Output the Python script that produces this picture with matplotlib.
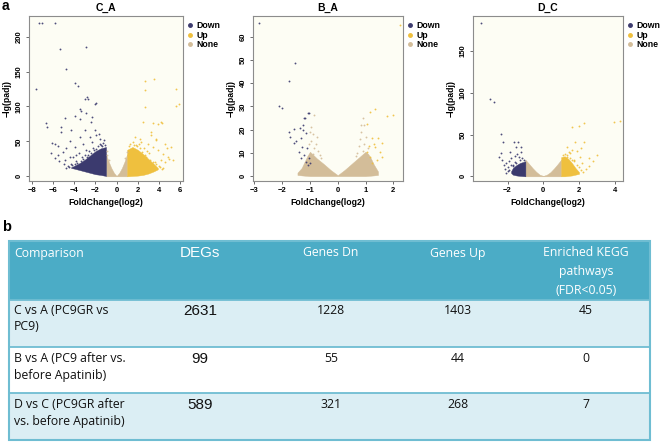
import matplotlib
matplotlib.use('Agg')
import matplotlib.pyplot as plt
from matplotlib.patches import Rectangle
from matplotlib.lines import Line2D

### Cores
cor_down = '#3b3a6e'
cor_up   = '#efc03e'
cor_none = '#d3bd99'
cor_fundo = '#fdfdf4'

### ========== C_A ==========
ca_down_x = [-7.31, -7.09, -5.83, -5.36, -2.91, -4.82, -7.62, -3.94, -3.69, -2.75, -3.03, -6.71, -6.62, -6.08, -5.86,
             -5.30, -3.47, -3.35, -1.96, -2.37, -4.89, -3.97, -3.50, -2.87, -2.40, -2.08, -4.29, -4.45, -3.03, -5.55,
             -4.76, -5.08, -3.97, -3.19, -1.92, -1.61, -2.56, -3.50, -4.45, -3.82, -5.55, -4.92, -5.30, -2.02, -2.71,
             -1.3, -1.5, -1.8, -2.2, -2.6, -3.0, -3.3, -3.8, -4.3, -4.6, -5.0, -5.4, -5.8, -6.2, -1.2, -2.9, -3.6,
             -4.1, -1.7, -2.3,
             -1.1, -1.4, -1.9, -2.1, -2.7, -3.2, -3.4, -3.9, -4.5, -4.8, -1.6, -2.4, -2.8, -3.7, -4.2]
ca_down_y = [219, 219, 219, 183, 185, 153, 125, 134, 129, 114, 111, 77, 70, 48, 46,
             70, 97, 93, 105, 85, 84, 86, 82, 90, 78, 66, 66, 51, 66, 44,
             40, 35, 42, 47, 59, 54, 56, 56, 28, 30, 30, 23, 63, 104, 111,
             48, 45, 44, 40, 36, 30, 27, 22, 18, 15, 17, 22, 26, 34, 52, 38, 33,
             28, 60, 49,
             45, 43, 39, 37, 31, 25, 22, 17, 13, 12, 46, 34, 28, 19, 16]
ca_up_x = [2.65, 5.65, 2.71, 5.65, 2.71, 3.91, 2.49, 3.44, 4.23, 5.17, 4.79, 4.54, 3.75, 3.28, 2.18, 2.97, 4.38, 3.91,
           3.44, 2.33, 1.70, 1.55, 5.33, 4.85, 4.23, 3.51, 5.87, 4.26, 3.29, 3.76, 1.3, 1.8, 2.6, 3.1, 4.6, 5.0, 2.9, 2.1,
           1.2, 1.6, 2.2, 2.4, 2.7, 3.2, 3.4, 3.7, 4.1, 4.4, 1.9, 2.8, 3.6, 4.0, 4.3]
ca_up_y = [136, 125, 123, 101, 99, 75, 78, 76, 78, 42, 40, 47, 54, 59, 54, 47, 32, 37,
           42, 49, 56, 49, 23, 28, 23, 140, 103, 77, 64, 52, 46, 45, 40, 33, 20, 25, 36, 47,
           43, 45, 41, 35, 30, 24, 21, 17, 13, 12, 44, 27, 20, 15, 10]
ca_none_x = [-0.9, -0.7, 0.8, 0.95, -0.95]
ca_none_y = [36, 24, 26, 35, 30]
# contornos das nuvens densas
ca_down_env_x  = [-4.3, -4.0, -3.5, -3.0, -2.5, -2.0, -1.5, -1.0]
ca_down_env_lo = [12, 11, 9, 7, 5, 3, 2, 0.5]
ca_down_env_hi = [13, 15, 19, 24, 30, 36, 40, 42]
ca_none_env_x  = [-1.0, -0.75, -0.5, -0.25, 0.0, 0.25, 0.5, 0.75, 1.0]
ca_none_env_lo = [0, 0, 0, 0, 0, 0, 0, 0, 0]
ca_none_env_hi = [32, 21, 12, 5, 0.5, 5, 12, 21, 32]
ca_up_env_x  = [1.0, 1.5, 2.0, 2.5, 3.0, 3.5, 3.9]
ca_up_env_lo = [0, 0.5, 1, 2, 4, 7, 10]
ca_up_env_hi = [38, 42, 38, 32, 25, 18, 12]

### ========== B_A ==========
ba_down_x = [-2.82, -1.54, -1.75, -2.11, -1.99, -1.06, -1.21, -1.24, -1.77, -1.71, -1.57, -1.51, -1.36, -1.24,
             -1.15, -1.04, -1.19, -1.33, -1.27, -1.10, -1.39, -1.21, -1.04, -1.57, -1.07, -1.00, -1.15, -1.33]
ba_down_y = [66, 48.5, 40.9, 30.3, 29.4, 27.3, 24.8, 22.2, 19.1, 17, 20.1, 15.1, 20.5, 19.8,
             18.4, 27, 24.9, 16.2, 12.6, 11.9, 10.5, 9.1, 7.6, 14.1, 4.7, 5.5, 6.2, 7.6]
ba_up_x = [2.24, 1.35, 1.17, 1.76, 1.98, 1.05, 1.23, 1.46, 1.58, 1.35, 1.51, 1.17, 1.40, 1.23, 1.05, 1.58, 1.30, 1.12]
ba_up_y = [65, 28.8, 27.4, 25.8, 26.3, 22.4, 16.2, 16.2, 14.1, 12.6, 10.5, 8.3, 6.9, 5.5, 10.5, 8.3, 14.0, 13.0]
ba_none_x = [-0.86, 0.93, -0.95, -0.85, -0.95, -0.80, -0.70, -0.75, -1.00, -0.90, -0.65, -0.60, -1.05,
             -0.88, 0.70, 0.75, 0.80, 0.85, 0.90, 0.95, 1.00, 0.65, 0.85, 1.10, 0.90]
ba_none_y = [26.3, 22, 21, 12, 15, 14, 11, 17, 19, 9.5, 9, 8, 14,
             18, 10, 13, 16, 19, 11, 14, 17, 8.5, 22, 12, 25]
ba_none_env_x  = [-1.45, -1.3, -1.2, -1.1, -1.0, -0.75, -0.5, -0.25, 0.0, 0.25, 0.5, 0.75, 1.0, 1.1, 1.2, 1.3, 1.45]
ba_none_env_lo = [0.5, 0.3, 0.2, 0.1, 0, 0, 0, 0, 0, 0, 0, 0, 0, 0.1, 0.2, 0.3, 0.5]
ba_none_env_hi = [1.5, 3.5, 6, 8.5, 10.5, 7.6, 5.2, 2.6, 0.4, 2.7, 5.3, 7.9, 10.5, 9.5, 7.5, 5, 2]

### ========== D_C ==========
dc_down_x = [-3.48, -2.98, -2.74, -2.35, -2.24, -1.63, -1.41, -1.54, -1.26, -1.35, -2.46, -2.33,
             -2.09, -1.81, -2.00, -1.72, -2.37, -1.85, -1.9, -2.15, -1.6, -1.45, -1.25, -2.2,
             -1.1, -1.3, -1.5, -1.7, -1.9, -2.0, -1.2, -1.6, -1.8, -2.1]
dc_down_y = [184, 92.5, 89.3, 50.3, 41.5, 41.5, 41.5, 35.5, 29.5, 23.5, 23.5, 19.5,
             15.6, 21.5, 11.6, 13.6, 27.5, 29.5, 18, 9, 24, 27, 35, 13,
             20, 19, 16, 12, 8, 6, 22, 17, 14, 4]
dc_up_x = [4.30, 3.96, 2.26, 1.98, 1.61, 1.80, 2.30, 1.33, 1.61, 3.00, 2.54, 2.07, 1.70, 2.54, 2.17,
           1.33, 1.52, 2.8, 1.9, 2.4, 1.45, 2.1,
           1.1, 1.3, 1.5, 1.7, 1.9, 2.1, 2.2, 1.2, 1.6, 2.0]
dc_up_y = [66.6, 64.6, 63.4, 60.2, 58.6, 41.5, 41.5, 35.5, 31.5, 25.5, 12.8, 23.5, 19.5, 21.5, 15.6,
           23.5, 27.5, 18, 30, 9, 29, 34,
           26, 25, 22, 18, 13, 8, 5, 27, 20, 11]
dc_down_env_x  = [-1.8, -1.7, -1.5, -1.3, -1.0]
dc_down_env_lo = [4, 2, 1, 0.5, 0]
dc_down_env_hi = [6, 10, 13.5, 16, 18]
dc_none_env_x  = [-1.0, -0.8, -0.6, -0.4, -0.2, 0.0, 0.2, 0.4, 0.6, 0.8, 1.0]
dc_none_env_lo = [0, 0, 0, 0, 0, 0, 0, 0, 0, 0, 0]
dc_none_env_hi = [20, 15, 10, 5.5, 2, 0.5, 2, 5, 9.5, 14.5, 20]
dc_up_env_x  = [1.0, 1.2, 1.4, 1.6, 1.8, 2.0]
dc_up_env_lo = [0, 0, 0.5, 1, 2, 3]
dc_up_env_hi = [23, 24, 21, 16, 10, 5]

### ========== Tabela ==========
cabecalho   = ['Comparison', 'DEGs', 'Genes Dn', 'Genes Up', 'Enriched KEGG\npathways\n(FDR<0.05)']
comparacoes = ['C vs A (PC9GR vs\nPC9)', 'B vs A (PC9 after vs.\nbefore Apatinib)', 'D vs C (PC9GR after\nvs. before Apatinib)']
degs        = [2631, 99, 589]
genes_dn    = [1228, 55, 321]
genes_up    = [1403, 44, 268]
kegg        = [45, 0, 7]

fonte = 'Liberation Sans'
fonte_tab = 'Open Sans'
W, H = 660, 443
fig = plt.figure(figsize=(W / 100, H / 100), dpi=100)

# ---------- Tabela (eixo em pixels) ----------
ax_t = fig.add_axes([0, 0, 1, 1])
ax_t.set_xlim(0, W)
ax_t.set_ylim(H, 0)
ax_t.axis('off')

azul = '#4bacc6'
claro = '#dbeef4'
linhas_y = [241, 300, 347, 393, 440]
ax_t.add_patch(Rectangle((9, 241), 641, 59, facecolor=azul, edgecolor='none'))
for i, cor in enumerate([claro, 'white', claro]):
    ax_t.add_patch(Rectangle((9, linhas_y[i + 1]), 641, linhas_y[i + 2] - linhas_y[i + 1], facecolor=cor, edgecolor='none'))
for yl in linhas_y[1:-1]:
    ax_t.plot([9, 650], [yl, yl], color='#6fbdd2', lw=1.3)
ax_t.add_patch(Rectangle((9, 241), 641, 199, facecolor='none', edgecolor='#6fbdd2', lw=1.5))

col_x = [14, 200, 331, 458, 586]
tam = 8.8
cor_txt = '#111111'
# cabeçalho
ax_t.text(col_x[0], 253, cabecalho[0], color='white', fontsize=tam, family=fonte_tab, ha='left', va='center')
ax_t.text(col_x[1], 253, cabecalho[1], color='white', fontsize=11, family=fonte, ha='center', va='center')
ax_t.text(col_x[2], 253, cabecalho[2], color='white', fontsize=tam, family=fonte_tab, ha='center', va='center')
ax_t.text(col_x[3], 253, cabecalho[3], color='white', fontsize=tam, family=fonte_tab, ha='center', va='center')
for k, linha in enumerate(cabecalho[4].split('\n')):
    ax_t.text(col_x[4], 253 + k * 18.5, linha, color='white', fontsize=tam, family=fonte_tab, ha='center', va='center')

topo_linhas = [311, 359, 405]
for i in range(3):
    y0 = topo_linhas[i]
    for k, linha in enumerate(comparacoes[i].split('\n')):
        ax_t.text(col_x[0], y0 + k * 16, linha, color=cor_txt, fontsize=tam, family=fonte_tab, ha='left', va='center')
    ax_t.text(col_x[1], y0, str(degs[i]), color=cor_txt, fontsize=11, family=fonte, ha='center', va='center')
    ax_t.text(col_x[2], y0, str(genes_dn[i]), color=cor_txt, fontsize=tam, family=fonte_tab, ha='center', va='center')
    ax_t.text(col_x[3], y0, str(genes_up[i]), color=cor_txt, fontsize=tam, family=fonte_tab, ha='center', va='center')
    ax_t.text(col_x[4], y0, str(kegg[i]), color=cor_txt, fontsize=tam, family=fonte_tab, ha='center', va='center')

ax_t.text(2, 10, 'a', fontsize=10, fontweight='bold', family=fonte, ha='left', va='baseline')
ax_t.text(2, 231, 'b', fontsize=10.5, fontweight='bold', family=fonte, ha='left', va='baseline')


# ---------- Volcano plots ----------
def volcano(ret, titulo, envs, pontos, xlim, ylim, xticks, yticks):
    ax = fig.add_axes([ret[0] / W, 1 - ret[3] / H, (ret[2] - ret[0]) / W, (ret[3] - ret[1]) / H])
    ax.set_facecolor(cor_fundo)
    for ex, lo, hi, cor in envs:
        ax.fill_between(ex, lo, hi, color=cor, lw=0.3, zorder=2)
    for px, py, cor in pontos:
        ax.scatter(px, py, s=1.8, color=cor, linewidths=0, alpha=0.9, zorder=3)
    ax.set_xlim(*xlim)
    ax.set_ylim(*ylim)
    ax.set_xticks(xticks, [str(t).replace('-', '\u2212') for t in xticks], fontsize=5.5, fontweight='bold', family=fonte)
    ax.set_yticks(yticks, [str(t) for t in yticks], fontsize=5.5, fontweight='bold', family=fonte, rotation=90, va='center')
    ax.tick_params(length=2.5, width=0.6, color='#555555', pad=2)
    for sp in ax.spines.values():
        sp.set_color('#8c8c8c')
        sp.set_linewidth(0.8)
    ax.set_title(titulo, fontsize=7.5, fontweight='bold', family=fonte, pad=4)
    ax.set_xlabel('FoldChange(log2)', fontsize=6.3, fontweight='bold', family=fonte, labelpad=3)
    ax.set_ylabel('\u2212lg(padj)', fontsize=6.3, fontweight='bold', family=fonte, labelpad=3)
    handles = [Line2D([], [], marker='o', ls='', color=c, markersize=2.5) for c in (cor_down, cor_up, cor_none)]
    ax.legend(handles, ['Down', 'Up', 'None'], loc='upper left', bbox_to_anchor=(1.0, 0.99), frameon=False,
              prop={'family': fonte, 'weight': 'bold', 'size': 6.3}, handlelength=0.8, handletextpad=0.3,
              labelspacing=0.05, borderaxespad=0.2, borderpad=0.2)
    return ax


volcano((29, 16, 183, 181), 'C_A',
        [(ca_none_env_x, ca_none_env_lo, ca_none_env_hi, cor_none),
         (ca_down_env_x, ca_down_env_lo, ca_down_env_hi, cor_down),
         (ca_up_env_x, ca_up_env_lo, ca_up_env_hi, cor_up)],
        [(ca_none_x, ca_none_y, cor_none), (ca_down_x, ca_down_y, cor_down), (ca_up_x, ca_up_y, cor_up)],
        (-8.28, 6.28), (-6.7, 229.6), [-8, -6, -4, -2, 0, 2, 4, 6], [0, 50, 100, 150, 200])

volcano((253, 16, 403, 181), 'B_A',
        [(ba_none_env_x, ba_none_env_lo, ba_none_env_hi, cor_none)],
        [(ba_none_x, ba_none_y, cor_none), (ba_down_x, ba_down_y, cor_down), (ba_up_x, ba_up_y, cor_up)],
        (-3.05, 2.35), (-2.1, 68.9), [-3, -2, -1, 0, 1, 2], [0, 10, 20, 30, 40, 50, 60])

volcano((473, 16, 623, 181), 'D_C',
        [(dc_none_env_x, dc_none_env_lo, dc_none_env_hi, cor_none),
         (dc_down_env_x, dc_down_env_lo, dc_down_env_hi, cor_down),
         (dc_up_env_x, dc_up_env_lo, dc_up_env_hi, cor_up)],
        [(dc_down_x, dc_down_y, cor_down), (dc_up_x, dc_up_y, cor_up)],
        (-3.93, 4.46), (-5.6, 191.9), [-2, 0, 2, 4], [0, 50, 100, 150])

fig.savefig('out.png', dpi=100)
